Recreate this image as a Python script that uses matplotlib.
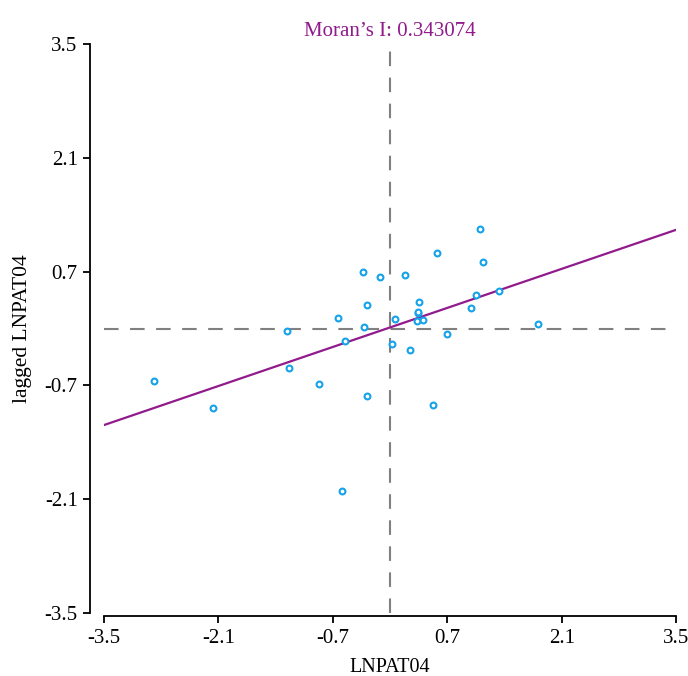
"""Moran scatter plot: LNPAT04 against its spatial lag."""
import matplotlib

matplotlib.use("Agg")
import matplotlib.pyplot as plt  # noqa: E402

plt.rcParams["font.family"] = ["Liberation Serif", "DejaVu Serif"]

# standardized values and their spatial lags
lnpat04 = [-2.888, -2.162, -1.264, -1.232, -0.865, -0.632, -0.550, -0.334,
           -0.321, -0.277, -0.277, -0.125, 0.025, 0.058, 0.184, 0.245,
           0.335, 0.340, 0.347, 0.359, 0.405, 0.531, 0.580, 0.702, 0.992,
           1.050, 1.106, 1.143, 1.338, 1.812, -0.587]
lagged = [-0.649, -0.974, -0.026, -0.489, -0.682, 0.126, -0.149, 0.692,
          0.023, 0.286, -0.833, 0.634, -0.186, 0.114, 0.659, -0.268,
          0.089, 0.195, 0.207, 0.323, 0.101, -0.940, 0.926, -0.063, 0.253,
          0.413, 1.224, 0.819, 0.462, 0.056, -2.002]

morans_i = 0.343074
intercept = 0.013
ticks = [-3.5, -2.1, -0.7, 0.7, 2.1, 3.5]
lim = (-3.5, 3.5)

PURPLE = "#911a8c"
BLUE = "#14a3ea"
GREY = "#808080"

fig = plt.figure(figsize=(6.88, 6.76), dpi=100)
ax = fig.add_axes([0.1512, 0.0932, 0.8314, 0.8417])

# quadrant dividers through the origin
ax.axvline(0, color=GREY, lw=1.5, dashes=(7, 5.5), zorder=1)
ax.axhline(0, color=GREY, lw=1.5, dashes=(7, 5.5), zorder=1)

# regression line, slope = Moran's I
ax.plot(list(lim), [intercept + morans_i * v for v in lim],
        color=PURPLE, lw=1.6, zorder=2)

ax.plot(lnpat04, lagged, "o", ms=4.2, mfc="white", mec=BLUE, mew=1.5,
        zorder=3)

ax.set_xlim(*lim)
ax.set_ylim(*lim)
ax.set_xticks(ticks)
ax.set_yticks(ticks)
ax.set_xticklabels([f"{t:g}" for t in ticks])
ax.set_yticklabels([f"{t:g}" for t in ticks])

for side in ("top", "right"):
    ax.spines[side].set_visible(False)
ax.spines["left"].set_position(("outward", 10))
ax.spines["bottom"].set_position(("outward", 2.5))
ax.spines["left"].set_bounds(*lim)
ax.spines["bottom"].set_bounds(*lim)
for side in ("left", "bottom"):
    ax.spines[side].set_linewidth(1.3)
ax.tick_params(axis="both", direction="out", length=5, width=1.3,
               labelsize=15, pad=4)

ax.set_xlabel("LNPAT04", fontsize=14.5, labelpad=7)
ax.set_ylabel("lagged LNPAT04", fontsize=15.5, labelpad=9)
ax.set_title(f"Moran\u2019s I: {morans_i:g}", color=PURPLE, fontsize=15,
             pad=6)

fig.savefig("out.png", dpi=100)
plt.close(fig)
